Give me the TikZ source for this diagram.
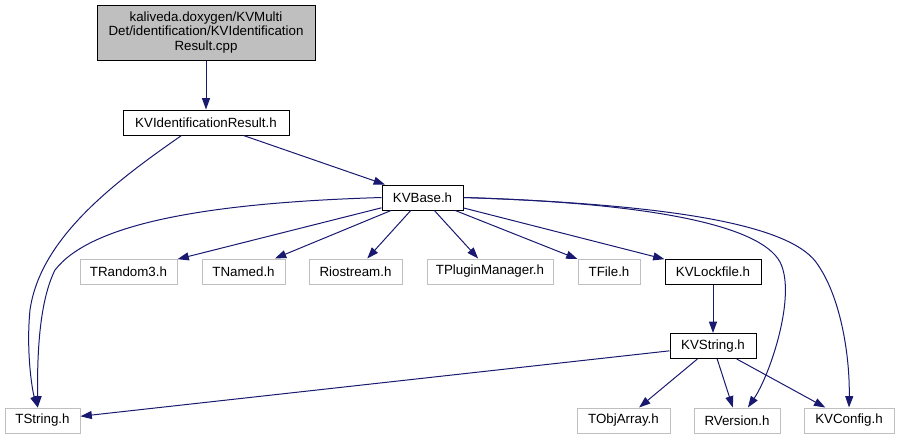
\documentclass[tikz,border=0pt]{standalone}
\usepackage{fontspec}
\setmainfont{Liberation Sans}
\usetikzlibrary{arrows.meta}
\definecolor{edgeblue}{HTML}{191970}
\definecolor{boxgray}{HTML}{BFBFBF}

\begin{document}
\begin{tikzpicture}[
        x=0.75pt, y=-0.75pt,
        every node/.style={font=\fontsize{10}{11}\selectfont, inner sep=0pt, minimum height=18.75pt},
        local/.style={draw=black, line width=0.75pt},
        extern/.style={draw=boxgray, line width=0.75pt},
        dep/.style={edgeblue, line width=0.75pt, -{Triangle[length=8.5pt, width=6pt]}}
    ]
    \useasboundingbox (0,0) rectangle (899,440);

    % sources
    \node[local, fill=boxgray, minimum width=163.5pt, minimum height=41.25pt, align=center] (cpp) at (206,32.5)
        {kaliveda.doxygen/KVMulti\\Det/identification/KVIdentification\\Result.cpp};
    \node[local, minimum width=124.5pt] (idres) at (206,122.5) {KVIdentificationResult.h};
    \node[local, minimum width=60.75pt] (base) at (422.5,197.5) {KVBase.h};

    % headers
    \node[extern, minimum width=72.75pt] (random) at (128.5,271.5) {TRandom3.h};
    \node[extern, minimum width=62.25pt] (named) at (243.5,271.5) {TNamed.h};
    \node[extern, minimum width=69.75pt] (riostream) at (355.5,271.5) {Riostream.h};
    \node[extern, minimum width=94.5pt] (plugin) at (490,271.5) {TPluginManager.h};
    \node[extern, minimum width=46.5pt] (tfile) at (609,271.5) {TFile.h};
    \node[local, minimum width=72pt] (lockfile) at (713,271.5) {KVLockfile.h};
    \node[local, minimum width=64.5pt] (kvstring) at (713,346) {KVString.h};
    \node[extern, minimum width=56.25pt] (tstring) at (42.5,420.5) {TString.h};
    \node[extern, minimum width=69.75pt] (objarray) at (623.5,420.5) {TObjArray.h};
    \node[extern, minimum width=64.5pt] (rversion) at (737,420.5) {RVersion.h};
    \node[extern, minimum width=67.5pt] (config) at (849,420.5) {KVConfig.h};

    % includes
    \draw[dep] (cpp) -- (idres);
    \draw[dep] (idres) -- (base);
    \draw[dep] (idres.208) .. controls (110,185) and (40,240) .. (30,310)
        .. controls (26,350) and (32,390) .. (tstring.110);
    \draw[dep] (base.west) .. controls (200,203) and (90,225) .. (55,270)
        .. controls (40,300) and (37,350) .. (tstring.110);
    \draw[dep] (base) -- (random);
    \draw[dep] (base) -- (named);
    \draw[dep] (base) -- (riostream);
    \draw[dep] (base) -- (plugin);
    \draw[dep] (base) -- (tfile);
    \draw[dep] (base) -- (lockfile);
    \draw[dep] (base.east) .. controls (650,203) and (760,225) .. (780,262)
        .. controls (797,295) and (770,375) .. (rversion.50);
    \draw[dep] (base.east) .. controls (690,205) and (795,228) .. (818,265)
        .. controls (842,300) and (850,360) .. (config.north);
    \draw[dep] (lockfile) -- (kvstring);
    \draw[dep] (kvstring) -- (tstring);
    \draw[dep] (kvstring) -- (objarray);
    \draw[dep] (kvstring) -- (rversion);
    \draw[dep] (kvstring) -- (config);
\end{tikzpicture}
\end{document}
